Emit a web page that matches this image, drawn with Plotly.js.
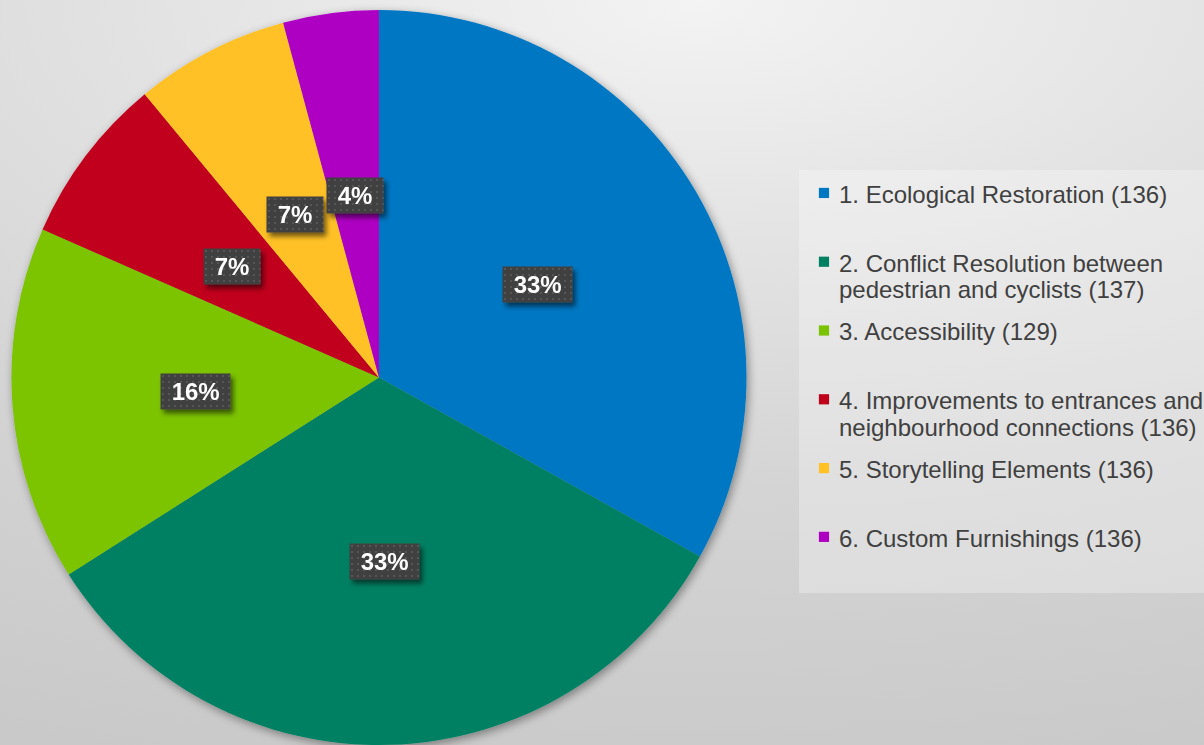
<!DOCTYPE html>
<html>
<head>
<meta charset="utf-8">
<script src="https://cdn.plot.ly/plotly-3.0.1.min.js"></script>
<style>
  html, body { margin: 0; padding: 0; }
  body {
    width: 1204px; height: 745px; overflow: hidden;
    background: radial-gradient(ellipse 150% 110% at 58% 0%, #f3f3f3 0%, #e3e3e3 30%, #d4d4d4 60%, #c8c8c8 100%);
  }
  #chart { width: 1204px; height: 745px; }
  .js-plotly-plot .pielayer { filter: url(#pieShadow); }
  .js-plotly-plot .annotation-text-g { filter: url(#boxShadow); }
  .js-plotly-plot .annotation rect.bg { fill: url(#dots) !important; }
  .js-plotly-plot .legend path.legendpie { transform: translate(25px, 0px) scale(0.85); }
</style>
</head>
<body>
<svg width="0" height="0" style="position:absolute">
  <defs>
    <filter id="pieShadow" x="-10%" y="-10%" width="125%" height="125%">
      <feGaussianBlur in="SourceAlpha" stdDeviation="5"/>
      <feOffset dx="2" dy="3" result="off"/>
      <feComponentTransfer in="off" result="sh"><feFuncA type="linear" slope="0.4"/></feComponentTransfer>
      <feMerge><feMergeNode in="sh"/><feMergeNode in="SourceGraphic"/></feMerge>
    </filter>
    <filter id="boxShadow" x="-30%" y="-30%" width="170%" height="190%">
      <feGaussianBlur in="SourceAlpha" stdDeviation="2.5"/>
      <feOffset dx="3" dy="4" result="off"/>
      <feComponentTransfer in="off" result="sh"><feFuncA type="linear" slope="0.55"/></feComponentTransfer>
      <feMerge><feMergeNode in="sh"/><feMergeNode in="SourceGraphic"/></feMerge>
    </filter>
    <pattern id="dots" width="6" height="6" patternUnits="userSpaceOnUse">
      <rect width="6" height="6" fill="#3f3f3f"/>
      <rect x="2" y="2" width="2" height="2" fill="#575757"/>
    </pattern>
  </defs>
</svg>
<div id="chart"></div>
<script>
// ---- data ----
const categoryLines = [
  ['1. Ecological Restoration (136)'],
  ['2. Conflict Resolution between', 'pedestrian and cyclists (137)'],
  ['3. Accessibility (129)'],
  ['4. Improvements to entrances and', 'neighbourhood connections (136)'],
  ['5. Storytelling Elements (136)'],
  ['6. Custom Furnishings (136)']
];
const shares = [33.1, 32.9, 15.6, 7.4, 6.8, 4.2];
const colors = ['#0077c2', '#008062', '#7bc300', '#c0001a', '#ffc125', '#ae00c2'];

// ---- build ----
const W = 1204, H = 745;
const dom = { x: [0.0094, 0.6201], y: [0, 0.9866] };
const firstLine = s => '<span style="font-size:24px">' + s + '</span>';
const nextLine = s => '<span style="font-size:24px;baseline-shift:6px">' + s + '</span>';
const legendText = categoryLines.map(lines => {
  const l = lines.slice();
  if (l.length < 2) l.push('\u00A0');
  return l.map((s, i) => i === 0 ? firstLine(s) : nextLine(s)).join('<br>');
});

const trace = {
  type: 'pie',
  labels: legendText,
  values: shares,
  sort: false,
  direction: 'clockwise',
  rotation: 0,
  marker: { colors: colors, line: { width: 0 } },
  textinfo: 'none',
  hoverinfo: 'skip',
  domain: dom
};

const total = shares.reduce((a, b) => a + b, 0);
const rPx = Math.min((dom.x[1] - dom.x[0]) * W, (dom.y[1] - dom.y[0]) * H) / 2;
const cx = (dom.x[0] + dom.x[1]) / 2, cy = (dom.y[0] + dom.y[1]) / 2;
let cum = 0;
const annotations = shares.map(v => {
  const mid = (cum + v / 2) / total * 2 * Math.PI;
  cum += v;
  return {
    xref: 'paper', yref: 'paper',
    x: cx + 0.5 * rPx * Math.sin(mid) / W,
    y: cy + 0.5 * rPx * Math.cos(mid) / H,
    xanchor: 'center', yanchor: 'middle',
    showarrow: false,
    text: '\u00A0' + Math.round(v / total * 100) + '%\u00A0',
    font: { family: 'Liberation Sans, Arial, sans-serif', size: 24, color: '#ffffff', weight: 'bold' },
    bgcolor: '#404040',
    borderpad: 4
  };
});

const layout = {
  width: W, height: H,
  margin: { l: 0, r: 0, t: 0, b: 0, autoexpand: false },
  paper_bgcolor: 'rgba(0,0,0,0)',
  plot_bgcolor: 'rgba(0,0,0,0)',
  showlegend: true,
  legend: {
    x: 0.6636, xanchor: 'left',
    y: 0.7718, yanchor: 'top',
    bgcolor: 'rgba(255,255,255,0.28)',
    borderwidth: 0,
    valign: 'top',
    font: { family: 'Liberation Sans, Arial, sans-serif', size: 25.3, color: '#404040' }
  },
  annotations: annotations
};

Plotly.newPlot('chart', [trace], layout, { staticPlot: true, displayModeBar: false });
</script>
</body>
</html>
